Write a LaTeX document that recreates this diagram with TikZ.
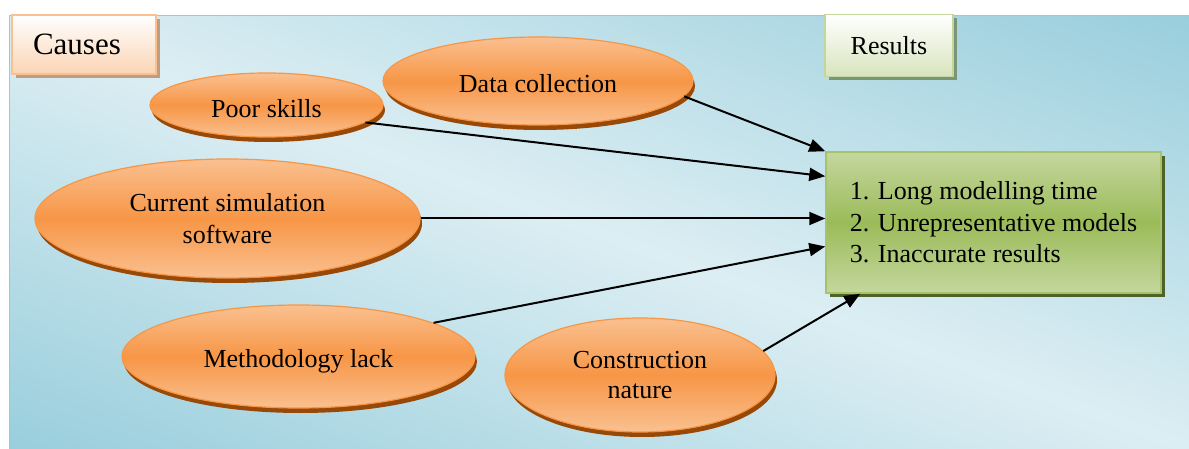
\documentclass[tikz,border=0pt]{standalone}
\usepackage{fontspec}
\setmainfont{Liberation Serif}
\usetikzlibrary{shapes.geometric,arrows.meta,shadows}
\definecolor{bgdark}{HTML}{92CBDA}
\definecolor{bglight}{HTML}{DCEEF3}
\definecolor{omid}{HTML}{F79646}
\definecolor{olight}{HTML}{FAC090}
\definecolor{oshadow}{HTML}{984807}
\definecolor{gmid}{HTML}{9BBB59}
\definecolor{glight}{HTML}{C4D79E}
\definecolor{gshadow}{HTML}{4F6228}
\definecolor{gborder}{HTML}{A6C26A}
\definecolor{pfill}{HTML}{FBD4B4}
\definecolor{pborder}{HTML}{FAC090}
\definecolor{pshadow}{HTML}{C09C80}
\definecolor{rfill}{HTML}{D7E4BD}
\definecolor{rborder}{HTML}{C3D69B}
\definecolor{rshadow}{HTML}{7B9579}
\pgfdeclareverticalshading{bgshade}{100bp}{color(0bp)=(bgdark); color(31bp)=(bgdark); color(50bp)=(bglight); color(69bp)=(bgdark); color(100bp)=(bgdark)}
\begin{document}
\begin{tikzpicture}[x=1pt,y=-1pt,
  txt/.style={font=\fontsize{26}{31.5}\selectfont},
  cause/.style={ellipse, draw=omid, line width=1.2pt, top color=olight, bottom color=olight, middle color=omid,
    inner sep=0pt, align=center, txt,
    drop shadow={shadow xshift=2pt, shadow yshift=-5pt, fill=oshadow, opacity=1}},
  onetext/.style={text height=#1, text depth=0pt},
  causesbox/.style={rectangle, draw=pborder, line width=1.5pt, top color=white, bottom color=pfill,
    drop shadow={shadow xshift=4pt, shadow yshift=-4pt, fill=pshadow, opacity=1},
    minimum height=59pt, text width=102pt, inner xsep=21pt, align=left, font=\fontsize{31}{36}\selectfont},
  resbox/.style={rectangle, draw=rborder, line width=1.5pt, top color=white, bottom color=rfill,
    drop shadow={shadow xshift=4pt, shadow yshift=-4pt, fill=rshadow, opacity=1},
    minimum width=128pt, minimum height=62pt, inner sep=0pt, txt},
  greenbox/.style={rectangle, draw=gborder, line width=1.5pt, top color=glight, bottom color=glight, middle color=gmid,
    drop shadow={shadow xshift=4pt, shadow yshift=-4pt, fill=gshadow, opacity=1},
    minimum width=335pt, minimum height=141pt, inner sep=0pt, align=left, txt},
  arr/.style={line width=2pt, -{Triangle[length=16pt,width=13pt]}},
]
\useasboundingbox (0,0) rectangle (1189,449);
% background panel
\begin{scope}
  \clip (9,16) rectangle (1189,449);
  \shade[shading=bgshade, shading angle=-20]
    (9,-357.5) rectangle (1189,822.5);
\end{scope}
\draw[bgdark, line width=1pt] (9,449) -- (9,16) -- (1189,16);

% title boxes
\node[causesbox] (causes) at (84,44.5) {Causes};
\node[resbox] (results) at (889,45.5) {Results};

% results box
\node[greenbox] (green) at (993.5,222.5) {1. Long modelling time\\2. Unrepresentative models\\3. Inaccurate results};

% causes
\node[cause, minimum width=233pt, minimum height=64pt, onetext=26pt] (poor) at (266.5,105) {Poor skills};
\node[cause, minimum width=310pt, minimum height=88pt, onetext=24pt] (data) at (538,81) {Data collection};
\node[cause, minimum width=385pt, minimum height=119pt, font=\fontsize{26}{32}\selectfont] (current) at (227.5,218.5) {Current simulation\\software};
\node[cause, minimum width=353pt, minimum height=103pt, onetext=21pt] (method) at (298.5,356.5) {Methodology lack};
\node[cause, minimum width=270pt, minimum height=114pt, font=\fontsize{26}{30}\selectfont] (constr) at (640,375) {Construction\\nature};

% connectors
\draw[arr] (data.-6) -- (green.north west);
\draw[arr] (poor.-10) -- ([yshift=-25pt]green.north west);
\draw[arr] (current.east) -- (current.east -| green.west);
\draw[arr] (method.14) -- ([yshift=-24pt]green.west);
\draw[arr] (constr.11) -- ([xshift=35pt]green.south west);
\end{tikzpicture}
\end{document}
